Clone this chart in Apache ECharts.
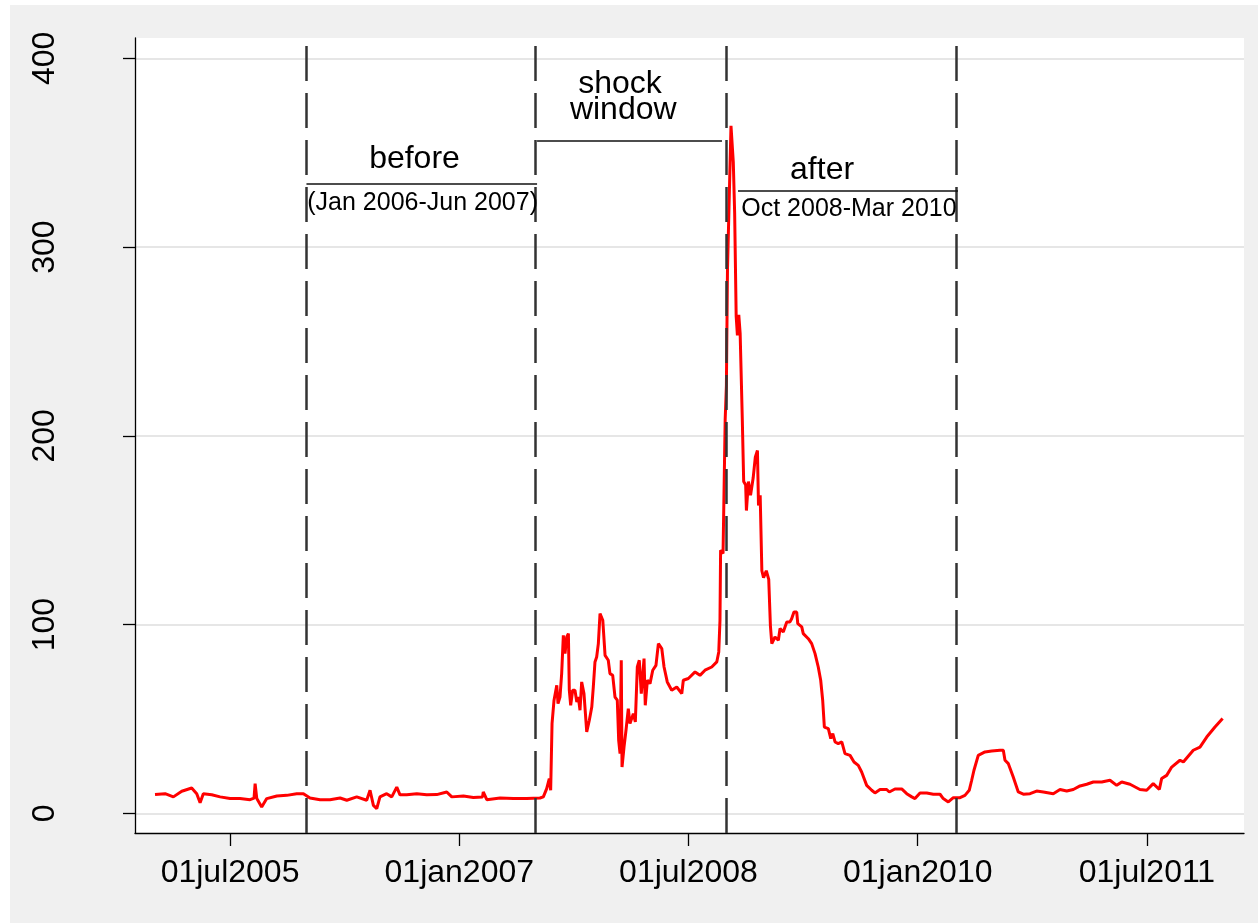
<!DOCTYPE html>
<html>
<head>
<meta charset="utf-8">
<script src="https://cdn.jsdelivr.net/npm/echarts@6/dist/echarts.min.js"></script>
<style>
  html, body { margin: 0; padding: 0; background: #fff; }
  #main { position: absolute; left: 10px; top: 5px; width: 1248px; height: 918px; }
</style>
</head>
<body>
<div id="main"></div>
<script>
// time is in decimal years (Stata daily dates)
var calmData = [
  [2005.009, 9.9], [2005.075, 10.4], [2005.129, 8.7], [2005.184, 11.7], [2005.249, 13.4], [2005.282, 10.4],
  [2005.304, 5.6], [2005.325, 10.4], [2005.380, 9.8], [2005.435, 8.7], [2005.500, 7.8], [2005.565, 7.8],
  [2005.631, 7.2], [2005.657, 8.0], [2005.664, 15.7], [2005.675, 7.8], [2005.707, 3.3], [2005.740, 7.8],
  [2005.806, 9.2], [2005.871, 9.5], [2005.936, 10.4], [2005.980, 10.4], [2006.023, 8.1], [2006.089, 7.2],
  [2006.154, 7.2], [2006.220, 8.1], [2006.264, 6.9], [2006.329, 8.7], [2006.394, 6.9], [2006.416, 12.2],
  [2006.438, 4.2], [2006.460, 2.5], [2006.481, 8.7], [2006.525, 10.4], [2006.558, 8.7], [2006.591, 13.9],
  [2006.612, 9.8], [2006.656, 9.8], [2006.722, 10.4], [2006.787, 9.8], [2006.852, 9.9], [2006.918, 11.3],
  [2006.951, 8.7], [2007.027, 9.2], [2007.092, 8.4], [2007.152, 8.7], [2007.157, 11.3], [2007.180, 7.2],
  [2007.267, 8.1], [2007.354, 7.8], [2007.441, 7.8], [2007.528, 8.1]
];

var shockData = [
  [2007.550, 8.7], [2007.572, 13.1], [2007.589, 18.4], [2007.598, 12.2], [2007.607, 47.5], [2007.620, 59.9],
  [2007.638, 67.8], [2007.646, 58.1], [2007.659, 61.6], [2007.670, 74.0], [2007.681, 94.3], [2007.692, 84.6],
  [2007.703, 93.4], [2007.714, 95.2], [2007.720, 65.2], [2007.729, 57.2], [2007.742, 65.2], [2007.757, 65.2],
  [2007.769, 59.0], [2007.779, 61.6], [2007.790, 54.6], [2007.801, 69.6], [2007.816, 63.4], [2007.834, 43.1],
  [2007.851, 49.3], [2007.867, 56.3], [2007.877, 66.9], [2007.888, 80.2], [2007.899, 82.8], [2007.910, 89.9],
  [2007.921, 105.8], [2007.939, 102.3], [2007.954, 83.7], [2007.975, 81.1], [2007.986, 74.0], [2008.004, 73.1],
  [2008.019, 61.6], [2008.034, 59.9], [2008.043, 38.7], [2008.052, 31.6], [2008.060, 81.1], [2008.065, 24.5],
  [2008.078, 35.1], [2008.091, 44.0], [2008.106, 55.5], [2008.117, 47.5], [2008.139, 52.8], [2008.152, 48.4],
  [2008.165, 77.5], [2008.178, 81.1], [2008.191, 63.4], [2008.209, 82.0], [2008.217, 57.2], [2008.231, 70.5],
  [2008.248, 68.7], [2008.266, 75.8], [2008.287, 78.4], [2008.303, 89.9], [2008.325, 87.3], [2008.340, 77.5],
  [2008.361, 69.6], [2008.390, 65.2], [2008.423, 66.9], [2008.456, 63.4], [2008.466, 70.5], [2008.499, 71.4],
  [2008.543, 74.9], [2008.575, 73.1], [2008.608, 75.8], [2008.652, 77.5], [2008.685, 80.2], [2008.698, 85.5],
  [2008.706, 102.3], [2008.710, 139.4], [2008.726, 137.6], [2008.740, 208.6], [2008.748, 226.8]
];

var crisisData = [
  [2008.755, 287.8], [2008.766, 288.7], [2008.778, 364.2], [2008.793, 345.2], [2008.802, 317.8], [2008.812, 263.2],
  [2008.820, 253.2], [2008.829, 264.1], [2008.838, 254.1], [2008.852, 208.6], [2008.861, 175.8], [2008.874, 174.0],
  [2008.879, 160.4], [2008.892, 175.8], [2008.906, 168.5], [2008.923, 177.6], [2008.937, 188.6], [2008.951, 192.2],
  [2008.958, 163.1], [2008.969, 168.5], [2008.980, 128.5], [2008.991, 124.8], [2009.009, 128.5], [2009.025, 123.9],
  [2009.036, 99.3], [2009.045, 89.9], [2009.066, 93.4], [2009.088, 91.7], [2009.099, 97.9], [2009.120, 96.1],
  [2009.143, 101.4], [2009.164, 101.4], [2009.175, 103.1], [2009.190, 106.6], [2009.208, 106.6], [2009.215, 100.5],
  [2009.241, 98.8], [2009.251, 95.2], [2009.284, 92.5], [2009.306, 89.9], [2009.328, 84.6], [2009.349, 77.5],
  [2009.365, 70.5], [2009.378, 59.9], [2009.389, 45.7], [2009.415, 44.9], [2009.431, 39.6], [2009.444, 42.2],
  [2009.459, 37.8], [2009.480, 36.9], [2009.503, 37.8], [2009.524, 31.6], [2009.557, 30.7], [2009.583, 27.2],
  [2009.611, 25.4], [2009.633, 21.9], [2009.666, 14.8], [2009.699, 12.2], [2009.720, 10.8], [2009.753, 12.6],
  [2009.797, 12.6], [2009.814, 11.3], [2009.851, 12.9], [2009.895, 12.9], [2009.928, 10.4], [2009.961, 8.7],
  [2009.982, 7.8], [2010.015, 10.8], [2010.059, 10.8], [2010.102, 10.1], [2010.146, 10.1], [2010.167, 7.8],
  [2010.200, 6.0], [2010.233, 8.3]
];

var lateData = [
  [2010.277, 8.3], [2010.309, 9.5], [2010.337, 12.2], [2010.353, 17.5], [2010.368, 22.8], [2010.396, 30.7],
  [2010.440, 32.5], [2010.484, 33.0], [2010.538, 33.4], [2010.560, 33.4], [2010.571, 28.1], [2010.593, 26.3],
  [2010.625, 19.2], [2010.658, 11.3], [2010.691, 10.1], [2010.735, 10.4], [2010.778, 11.8], [2010.822, 11.3],
  [2010.887, 10.4], [2010.931, 12.6], [2010.975, 11.8], [2011.018, 12.6], [2011.062, 14.5], [2011.106, 15.4],
  [2011.149, 16.6], [2011.204, 16.6], [2011.258, 17.5], [2011.302, 14.8], [2011.335, 16.6], [2011.389, 15.4],
  [2011.454, 12.6], [2011.498, 12.2], [2011.541, 15.7], [2011.581, 12.6], [2011.596, 18.4], [2011.629, 20.1],
  [2011.662, 24.5], [2011.716, 28.1], [2011.738, 27.2], [2011.803, 33.4], [2011.847, 35.1], [2011.891, 40.4],
  [2011.945, 45.7], [2011.995, 50.2]
];

var xTickVals = [2005.5, 2007.0, 2008.5, 2010.0, 2011.5];
var xTickLabels = ['01jul2005', '01jan2007', '01jul2008', '01jan2010', '01jul2011'];

// window boundaries: Jan 2006, Jul 2007, Oct 2008, Apr 2010
var windowEdges = [2006.0, 2007.5, 2008.75, 2010.25];

// bracket lines under the window titles: [x0, x1, y]
var brackets = [
  [2006.0, 2007.509, 333.2],
  [2007.509, 2008.719, 356.2],
  [2008.824, 2010.263, 329.7]
];

var bigNotes = [
  [2006.707, 346.3, 'before'],
  [2008.052, 386.2, 'shock'],
  [2008.073, 372.4, 'window'],
  [2009.374, 340.8, 'after']
];
var smallNotes = [
  [2006.760, 323.2, '(Jan 2006-Jun 2007)'],
  [2009.550, 319.8, 'Oct 2008-Mar 2010']
];

var xMin = 2004.878, xMax = 2012.135;
var font = 'Liberation Sans, Arial, Helvetica, sans-serif';

var chart = echarts.init(document.getElementById('main'));

function noteData(list) {
  return list.map(function (n) {
    return { coord: [n[0], n[1]], value: n[2] };
  });
}

var option = {
  animation: false,
  backgroundColor: '#f0f0f0',
  grid: [
    { left: 125, top: 33, width: 1109, height: 795, show: true, backgroundColor: '#fff', borderWidth: 0 },
    { left: 125, top: 53.3, width: 1109, height: 755, show: false }
  ],
  xAxis: [
    {
      gridIndex: 0, type: 'value', min: xMin, max: xMax, position: 'bottom',
      axisLine: { show: true, onZero: false, lineStyle: { color: '#000', width: 1.3 } },
      axisTick: { show: true, customValues: xTickVals, length: 13, lineStyle: { color: '#000', width: 1.3 } },
      axisLabel: {
        show: true, customValues: xTickVals, margin: 24,
        fontSize: 32, color: '#000', fontFamily: font,
        formatter: function (v) {
          var i = xTickVals.indexOf(v);
          return i >= 0 ? xTickLabels[i] : '';
        }
      },
      splitLine: { show: false }
    },
    {
      gridIndex: 1, type: 'value', min: xMin, max: xMax, show: false,
      splitLine: { show: false }
    }
  ],
  yAxis: [
    {
      gridIndex: 0, type: 'value', min: -10.6, max: 410.6,
      axisLine: { show: true, onZero: false, lineStyle: { color: '#000', width: 1.3 } },
      axisTick: { show: false }, axisLabel: { show: false }, splitLine: { show: false }
    },
    {
      gridIndex: 1, type: 'value', min: 0, max: 400, interval: 100,
      axisLine: { show: false },
      axisTick: { show: true, length: 12, lineStyle: { color: '#000', width: 1.3 } },
      axisLabel: { show: true, rotate: 90, margin: 74, fontSize: 32, color: '#000', fontFamily: font },
      splitLine: { show: true, lineStyle: { color: '#e6e6e6', width: 2 } }
    }
  ],
  series: [
    {
      // vertical window boundaries
      type: 'line', xAxisIndex: 0, yAxisIndex: 0, data: [], z: 2,
      markLine: {
        silent: true, symbol: 'none', label: { show: false },
        lineStyle: { color: '#333', width: 2.5, type: [35, 12] },
        data: windowEdges.map(function (x) { return { xAxis: x }; })
      }
    },
    {
      // bracket lines
      type: 'line', xAxisIndex: 0, yAxisIndex: 0, data: [], z: 2,
      markLine: {
        silent: true, symbol: 'none', label: { show: false },
        lineStyle: { color: '#111', width: 1.5, type: 'solid' },
        data: brackets.map(function (b) {
          return [{ coord: [b[0], b[2]] }, { coord: [b[1], b[2]] }];
        })
      }
    },
    {
      // window titles
      type: 'line', xAxisIndex: 0, yAxisIndex: 0, data: [], z: 4,
      markPoint: {
        silent: true, symbol: 'circle', symbolSize: 0,
        label: { show: true, position: 'inside', formatter: '{c}', fontSize: 32, color: '#000', fontFamily: font },
        data: noteData(bigNotes)
      }
    },
    {
      type: 'line', xAxisIndex: 0, yAxisIndex: 0, data: [], z: 4,
      markPoint: {
        silent: true, symbol: 'circle', symbolSize: 0,
        label: { show: true, position: 'inside', formatter: '{c}', fontSize: 25, color: '#000', fontFamily: font },
        data: noteData(smallNotes)
      }
    },
    {
      name: 'spread', type: 'line', xAxisIndex: 1, yAxisIndex: 1, z: 3,
      showSymbol: false, symbol: 'none',
      lineStyle: { color: '#ff0000', width: 3 },
      data: calmData.concat(shockData, crisisData, lateData)
    }
  ]
};

chart.setOption(option);
</script>
</body>
</html>
